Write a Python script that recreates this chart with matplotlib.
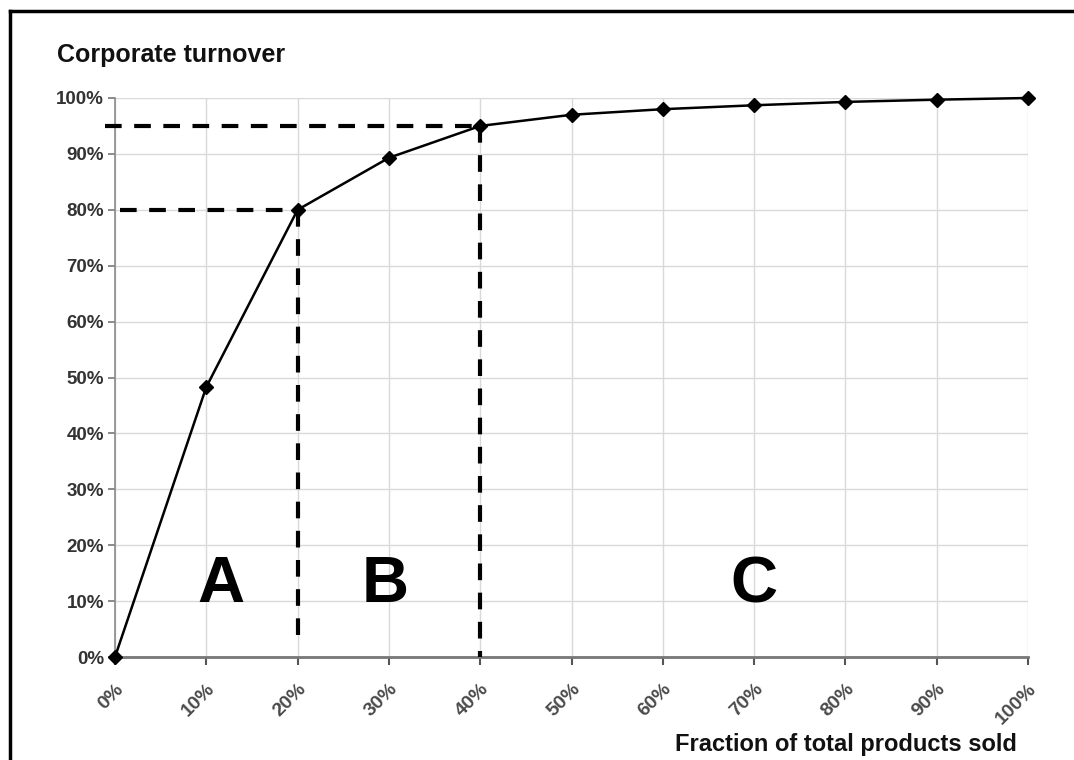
import numpy as np
import matplotlib
matplotlib.use("Agg")
import matplotlib.pyplot as plt
from matplotlib.lines import Line2D
from matplotlib.ticker import PercentFormatter

plt.rcParams['font.family'] = ['Liberation Sans', 'DejaVu Sans']

# fraction of products sold vs cumulative turnover
products = [0.0, 0.1, 0.2, 0.3, 0.4, 0.5, 0.6, 0.7, 0.8, 0.9, 1.0]
turnover = [0.0, 0.483, 0.80, 0.893, 0.95, 0.97, 0.98, 0.987, 0.993, 0.997, 1.0]

# class boundaries
cut_x = [0.2, 0.4]
cut_y = [0.80, 0.95]
classes = ["A", "B", "C"]
class_x = [0.116, 0.296, 0.70]

fig = plt.figure(figsize=(10.74, 7.6), dpi=100)
ax = fig.add_axes([115/1074, 1 - 657/760, (1028 - 115)/1074, (657 - 98)/760])

ax.set_xlim(0, 1)
ax.set_ylim(0, 1)
ax.set_xticks(np.arange(0, 1.01, 0.1))
ax.set_yticks(np.arange(0, 1.01, 0.1))
ax.xaxis.set_major_formatter(PercentFormatter(1.0, decimals=0))
ax.yaxis.set_major_formatter(PercentFormatter(1.0, decimals=0))
ax.grid(True, color="#d9d9d9", linewidth=1.0, zorder=0)
ax.set_axisbelow(True)

for s in ["top", "right"]:
    ax.spines[s].set_visible(False)
ax.spines["left"].set_color("#8a8a8a")
ax.spines["left"].set_linewidth(1.2)
ax.spines["bottom"].set_color("#777777")
ax.spines["bottom"].set_linewidth(2.0)

ax.tick_params(axis="y", length=5, width=1.2, color="#777777", pad=3,
               labelsize=13.5, labelcolor="#333333")
ax.tick_params(axis="x", length=6, width=1.5, color="#555555", pad=11,
               labelsize=14, labelcolor="#4a4a4a")
for lab in ax.get_yticklabels():
    lab.set_fontweight("bold")
for lab in ax.get_xticklabels():
    lab.set_fontweight("bold")
    lab.set_rotation(45)
    lab.set_ha("right")
    lab.set_va("top")
    lab.set_rotation_mode("anchor")

# dashed boundary lines
ax.plot([0.005, cut_x[0]], [cut_y[0], cut_y[0]], color="black", lw=3,
        dashes=(4, 3), clip_on=False, zorder=3)
ax.plot([-0.011, cut_x[1]], [cut_y[1], cut_y[1]], color="black", lw=3,
        dashes=(4, 3), clip_on=False, zorder=3)
ax.plot([cut_x[0], cut_x[0]], [cut_y[0], 0.03], color="black", lw=3,
        dashes=(4, 3), zorder=3)
ax.plot([cut_x[1], cut_x[1]], [cut_y[1], 0.0], color="black", lw=3,
        dashes=(4, 3), zorder=3)

# pareto curve
ax.plot(products, turnover, color="black", lw=1.8, marker="D", markersize=7,
        clip_on=False, zorder=4)

for c, cx in zip(classes, class_x):
    ax.text(cx, 0.128, c, fontsize=47, fontweight="bold", ha="center",
            va="center", color="black")

fig.text(57/1074, 1 - 55/760, "Corporate turnover", fontsize=18,
         fontweight="bold", ha="left", va="center", color="#111111")
fig.text(1017/1074, 1 - 745/760, "Fraction of total products sold",
         fontsize=17, fontweight="bold", ha="right", va="center",
         color="#111111")

# outer frame (cropped on right and bottom)
fig.add_artist(Line2D([10/1074, 1.0], [1 - 11/760, 1 - 11/760],
                      color="black", lw=2.5, transform=fig.transFigure))
fig.add_artist(Line2D([10/1074, 10/1074], [0.0, 1 - 11/760],
                      color="black", lw=2.5, transform=fig.transFigure))

fig.savefig("out.png", dpi=100)
